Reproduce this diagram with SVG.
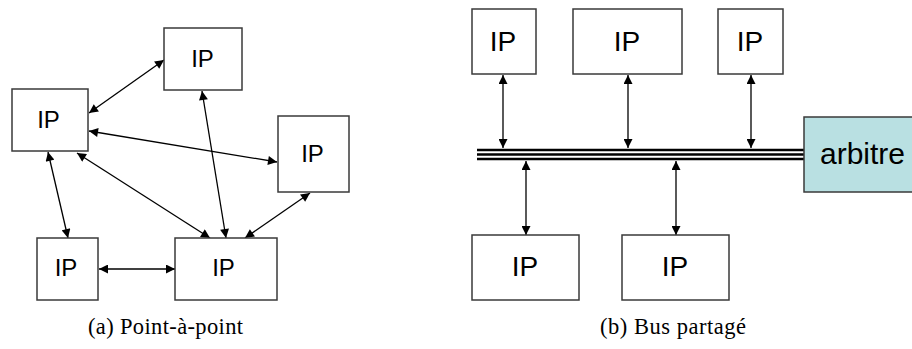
<svg xmlns="http://www.w3.org/2000/svg" width="912" height="349" viewBox="0 0 912 349">
<style>
.box{fill:#ffffff;stroke:#3a3a3a;stroke-width:1.5}
.arb{fill:#b9e0e2;stroke:#3a3a3a;stroke-width:1.5}
.lbl{font-family:"Liberation Sans",Arial,sans-serif;fill:#000;text-anchor:middle}
.s{font-size:24px}
.l{font-size:28px}
.arr{stroke:#000;stroke-width:1.3;fill:none;marker-start:url(#ah);marker-end:url(#ah)}
.bus{stroke:#000;stroke-width:2.4}
.cap{font-family:"Liberation Serif","Times New Roman",serif;font-size:22.5px;fill:#000}
</style>
<defs>
<marker id="ah" viewBox="0 0 10 10" refX="10" refY="5" markerUnits="userSpaceOnUse" markerWidth="10" markerHeight="9" orient="auto-start-reverse">
<path d="M0,0 L10,5 L0,10 z" fill="#000"/>
</marker>
</defs>
<g id="connectors">
<line class="arr" x1="89" y1="113" x2="164" y2="60"/>
<line class="arr" x1="89" y1="131" x2="277" y2="162"/>
<line class="arr" x1="77" y1="153" x2="210" y2="238"/>
<line class="arr" x1="48" y1="152" x2="68" y2="238"/>
<line class="arr" x1="202" y1="91" x2="226" y2="238"/>
<line class="arr" x1="310" y1="193" x2="245" y2="238"/>
<line class="arr" x1="99" y1="269" x2="175" y2="269"/>
<line class="bus" x1="477" y1="150" x2="804" y2="150"/>
<line class="bus" x1="477" y1="154.5" x2="804" y2="154.5"/>
<line class="bus" x1="477" y1="159" x2="804" y2="159"/>
<line class="arr" x1="503" y1="75" x2="503" y2="148"/>
<line class="arr" x1="628" y1="75" x2="628" y2="148"/>
<line class="arr" x1="751" y1="75" x2="751" y2="148"/>
<line class="arr" x1="526" y1="161" x2="526" y2="235"/>
<line class="arr" x1="676" y1="161" x2="676" y2="235"/>
</g>
<g id="a-top"><rect class="box" x="164" y="28" width="78" height="62"/><text class="lbl s" x="202.5" y="67">IP</text></g>
<g id="a-left"><rect class="box" x="12" y="89" width="76" height="62"/><text class="lbl s" x="48.5" y="128">IP</text></g>
<g id="a-right"><rect class="box" x="278" y="116" width="71" height="76"/><text class="lbl s" x="312.5" y="162">IP</text></g>
<g id="a-bl"><rect class="box" x="37" y="238" width="61" height="62"/><text class="lbl s" x="66" y="276">IP</text></g>
<g id="a-bc"><rect class="box" x="175" y="238" width="102" height="62"/><text class="lbl s" x="223.5" y="276">IP</text></g>
<g id="b-t1"><rect class="box" x="472" y="9" width="64" height="65"/><text class="lbl l" x="503" y="51">IP</text></g>
<g id="b-t2"><rect class="box" x="573" y="9" width="109" height="65"/><text class="lbl l" x="627" y="51">IP</text></g>
<g id="b-t3"><rect class="box" x="718" y="9" width="65" height="65"/><text class="lbl l" x="750" y="51">IP</text></g>
<g id="b-b1"><rect class="box" x="472" y="235" width="107" height="65"/><text class="lbl l" x="525" y="276">IP</text></g>
<g id="b-b2"><rect class="box" x="622" y="235" width="107" height="65"/><text class="lbl l" x="675" y="276">IP</text></g>
<g id="arbitre"><rect class="arb" x="804" y="117" width="112" height="75"/><text x="820" y="164" font-family="Liberation Sans,Arial,sans-serif" font-size="30" fill="#000">arbitre</text></g>
<text class="cap" x="88" y="334" textLength="155" lengthAdjust="spacing">(a) Point-à-point</text>
<text class="cap" x="600" y="334" textLength="146" lengthAdjust="spacing">(b) Bus partagé</text>
</svg>
